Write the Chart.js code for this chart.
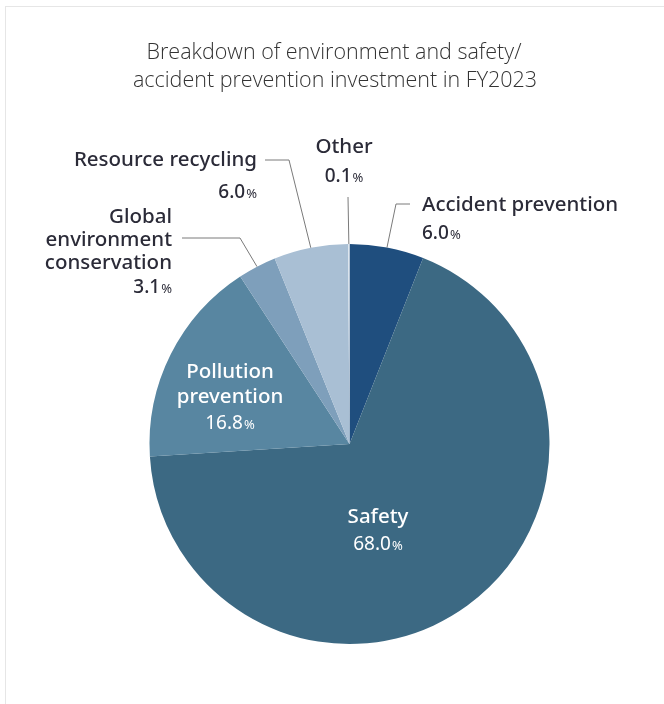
<!DOCTYPE html>
<html>
<head>
<meta charset="utf-8">
<script src="https://cdn.jsdelivr.net/npm/chart.js@4/dist/chart.umd.min.js"></script>
<style>
  html, body { margin: 0; padding: 0; background: #ffffff; }
  #frame { position: absolute; left: 5px; top: 6px; width: 720px; height: 760px; border: 1px solid #e6e6e6; box-sizing: border-box; }
  #wrap { position: absolute; left: 0; top: 0; width: 664px; height: 704px; }
</style>
</head>
<body>
<div id="frame"></div>
<div id="wrap"><canvas id="c" width="664" height="704"></canvas></div>
<script>
// ---- data ----
const titleLines = ['Breakdown of environment and safety/', 'accident prevention investment in FY2023'];
const categories = ['Accident prevention', 'Safety', 'Pollution prevention', 'Global environment conservation', 'Resource recycling', 'Other'];
const shares = [6.0, 68.0, 16.8, 3.1, 6.0, 0.1];
const labelTexts = [
  ['Accident prevention'],
  ['Safety'],
  ['Pollution', 'prevention'],
  ['Global', 'environment', 'conservation'],
  ['Resource recycling'],
  ['Other']
];
const colors = ['#1f4e7e', '#3c6983', '#5886a1', '#7e9fbb', '#a9bfd4', '#dbe4ed'];

// ---- label layout (offsets from pie centre) ----
const labelLayout = [
  { inside: false, elbow: [46.5, -240], end: [60.5, -240], align: 'left', x: 72.5, ys: [-239, -212], color: '#2b2b38' },
  { inside: true, align: 'center', x: 28.5, ys: [73, 99], color: '#ffffff' },
  { inside: true, align: 'center', x: -119.5, ys: [-72, -47, -22], color: '#ffffff' },
  { inside: false, elbow: [-109.5, -206], end: [-167.5, -206], align: 'right', x: -177.5, ys: [-227, -204, -181, -158], color: '#2b2b38' },
  { inside: false, elbow: [-60.5, -284], end: [-84.5, -284], align: 'right', x: -92.5, ys: [-284, -253], color: '#2b2b38' },
  { inside: false, elbow: [-1.5, -247], end: [-1.5, -247], align: 'center', x: -5.5, ys: [-297, -269], color: '#2b2b38' }
];

const FONT = '"Noto Sans", "DejaVu Sans", sans-serif';

function drawValue(ctx, value, x, y, align, color, inside) {
  const num = value.toFixed(1);
  const numFont = (inside ? '400 19px ' : '500 19px ') + FONT;
  const pctFont = '400 13px ' + FONT;
  ctx.font = numFont;
  const w1 = ctx.measureText(num).width;
  ctx.font = pctFont;
  const w2 = ctx.measureText('%').width + 1;
  const total = w1 + w2;
  let left = x;
  if (align === 'right') left = x - total;
  else if (align === 'center') left = x - total / 2;
  ctx.fillStyle = color;
  ctx.textAlign = 'left';
  ctx.textBaseline = 'alphabetic';
  ctx.font = numFont;
  ctx.fillText(num, left, y + 7);
  ctx.font = pctFont;
  ctx.fillText('%', left + w1 + 1, y + 7);
}

const labelPlugin = {
  id: 'labelPlugin',
  afterDraw(chart) {
    const ctx = chart.ctx;
    const meta = chart.getDatasetMeta(0);
    ctx.save();
    // title
    ctx.fillStyle = '#333333';
    ctx.textAlign = 'center';
    ctx.textBaseline = 'middle';
    ctx.font = '300 21.5px "Open Sans", sans-serif';
    ctx.fillText(titleLines[0], 334, 53);
    ctx.fillText(titleLines[1], 335, 81);

    meta.data.forEach((arc, i) => {
      const p = arc.getProps(['x', 'y', 'startAngle', 'endAngle', 'outerRadius'], true);
      const cx = p.x, cy = p.y;
      const L = labelLayout[i];
      if (!L.inside) {
        const mid = (p.startAngle + p.endAngle) / 2;
        const ax = cx + Math.cos(mid) * p.outerRadius;
        const ay = cy + Math.sin(mid) * p.outerRadius;
        ctx.strokeStyle = '#7a7a7a';
        ctx.lineWidth = 1;
        ctx.beginPath();
        ctx.moveTo(ax, ay);
        ctx.lineTo(cx + L.elbow[0], cy + L.elbow[1]);
        ctx.lineTo(cx + L.end[0], cy + L.end[1]);
        ctx.stroke();
      }
      const lines = labelTexts[i];
      ctx.fillStyle = L.color;
      ctx.textBaseline = 'middle';
      ctx.font = '500 20.5px ' + FONT;
      ctx.textAlign = L.align;
      lines.forEach((t, k) => {
        ctx.fillText(t, cx + L.x, cy + L.ys[k]);
      });
      drawValue(ctx, shares[i], cx + L.x, cy + L.ys[lines.length], L.align, L.color, L.inside);
    });
    ctx.restore();
  }
};

new Chart(document.getElementById('c'), {
  type: 'pie',
  data: {
    labels: categories,
    datasets: [{
      data: shares,
      backgroundColor: colors,
      borderWidth: 0
    }]
  },
  options: {
    responsive: false,
    animation: false,
    layout: { padding: { left: 149.5, right: 114.5, top: 244, bottom: 60 } },
    plugins: {
      legend: { display: false },
      tooltip: { enabled: false },
      title: { display: false }
    }
  },
  plugins: [labelPlugin]
});
</script>
</body>
</html>
